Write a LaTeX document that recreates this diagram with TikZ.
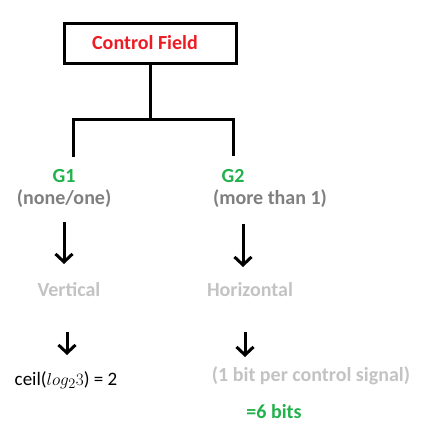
\documentclass[tikz,border=0pt]{standalone}
\usepackage{fontspec}
\setmainfont{Carlito}
\usetikzlibrary{arrows.meta}
\definecolor{fieldred}{HTML}{ED1C24}
\definecolor{groupgreen}{HTML}{22B14C}
\definecolor{notegray}{HTML}{7F7F7F}
\definecolor{palegray}{HTML}{C3C3C3}
\begin{document}
\begin{tikzpicture}[
          x=1pt, y=1pt,
          txt/.style={inner sep=0pt, font=\fontsize{20}{24}\selectfont\bfseries},
          box/.style={draw, line width=3pt, minimum width=172pt, minimum height=40pt, txt},
          wire/.style={line width=3pt},
          arr/.style={line width=3pt, -{Straight Barb[length=8pt, width=17pt, line width=3pt]}}
        ]
        \useasboundingbox (0,0) rectangle (431,-429);
        \node[box] (field) at (150,-43) {};
        \node[txt, text=fieldred] (fieldname) at (145,-43) {Control Field};
        \coordinate (fork) at (150,-119);
        \coordinate (leftleg) at (73,-157);
        \coordinate (rightleg) at (233,-156);
        \node[txt, text=groupgreen] (g1) at (64,-176) {G1};
        \node[txt, text=notegray] (g1note) at (64,-199) {(none/one)};
        \node[txt, text=groupgreen] (g2) at (233,-176) {G2};
        \node[txt, text=notegray] (g2note) at (270,-199) {(more than 1)};
        \node[txt, text=palegray] (vert) at (69,-290) {Vertical};
        \node[txt, text=palegray] (horiz) at (250,-290) {Horizontal};
        \node[inner sep=0pt, font=\fontsize{19}{23}\selectfont] (ceil) at (66,-380) {ceil($log_2 3$) = 2};
        \node[txt, text=palegray] (perbit) at (311,-376) {(1 bit per control signal)};
        \node[txt, text=groupgreen] (bits) at (274,-412) {=6 bits};
        % arrow ends
        \coordinate (v1) at (64,-222);
        \coordinate (v2) at (64,-264);
        \coordinate (h1) at (243,-224);
        \coordinate (h2) at (243,-267);
        \coordinate (c1) at (67,-332);
        \coordinate (c2) at (67,-355);
        \coordinate (b1) at (245,-332);
        \coordinate (b2) at (245,-357);
        % bracket from the field to both groups
        \draw[wire] (field.south) -- (fork);
        \draw[wire] (leftleg) |- (fork) -| (rightleg);
        % arrows down each column
        \draw[arr] (v1) -- (v2);
        \draw[arr] (h1) -- (h2);
        \draw[arr] (c1) -- (c2);
        \draw[arr] (b1) -- (b2);
\end{tikzpicture}
\end{document}
